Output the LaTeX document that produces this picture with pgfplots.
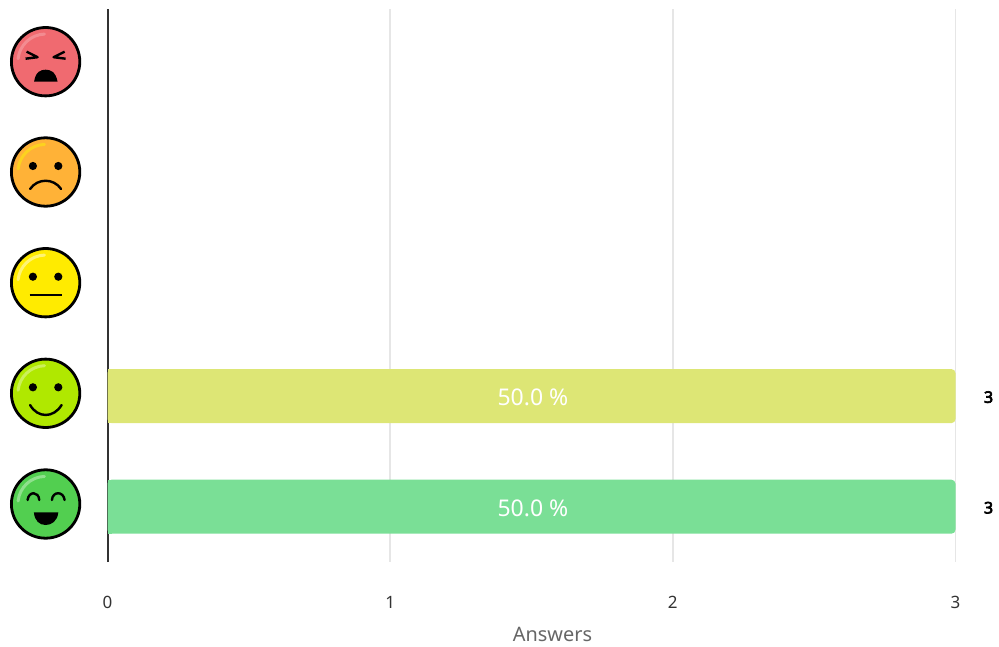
\documentclass[border=0pt]{standalone}
\usepackage{fontspec}
\setmainfont{Noto Sans}
\newfontface\boldthree{Noto Sans}[FakeBold=4]
\usepackage{pgfplots}
\pgfplotsset{compat=1.18}
\definecolor{barlime}{HTML}{DDE675}
\definecolor{bargreen}{HTML}{7ADF96}
\definecolor{gridc}{HTML}{E6E6E6}
\definecolor{axisc}{HTML}{333333}
\definecolor{tickc}{HTML}{333333}
\definecolor{labc}{HTML}{666666}
\definecolor{fred}{HTML}{F06A70}
\definecolor{forange}{HTML}{FFB237}
\definecolor{fyellow}{HTML}{FFEB00}
\definecolor{flime}{HTML}{B0E800}
\definecolor{fgreen}{HTML}{52CF50}
\newcommand{\face}[4]{% cy, fill, highlight, features
  \begin{scope}[shift={(45.6,#1)}]
    \fill[#2] (0,0) circle (34.2);
    \draw[#3,line width=3pt,line cap=round] (-27.5,-3) arc[start angle=186,end angle=268,radius=27.5];
    \draw[black,line width=2.8pt] (0,0) circle (34.2);
    #4
  \end{scope}}
\newcommand{\eyes}{\fill[black] (-12.7,-6) circle (4.1);\fill[black] (12.7,-6) circle (4.1);}
\begin{document}
\begin{tikzpicture}
\useasboundingbox (0,0) rectangle (999pt,646pt);
\begin{axis}[
  at={(107.5pt,84pt)},anchor=south west,
  scale only axis,width=848pt,height=553pt,
  xmin=0,xmax=3,ymin=-0.5,ymax=4.5,
  xbar,bar width=54pt,bar shift=0pt,
  clip=false,
  axis x line=bottom,
  axis y line=left,
  x axis line style={draw=none},
  y axis line style={draw=axisc,line width=2pt,-},
  xtick={0,1,2,3},ytick=\empty,
  xmajorgrids,
  grid style={gridc,line width=1.5pt},
  major tick length=0pt,
  tick label style={font=\fontsize{17}{17}\selectfont,text=tickc,/pgf/number format/assume math mode=true},
  xticklabel style={yshift=-31pt},
  xlabel={Answers},
  xlabel style={font=\fontsize{19.9}{19.9}\selectfont,text=labc,yshift=-11.5pt,xshift=21pt},
]
\addplot[forget plot,draw=none,fill=barlime,rounded corners=4pt] coordinates {(3,1)};
\addplot[forget plot,draw=none,fill=bargreen,rounded corners=4pt] coordinates {(3,0)};
\addplot[forget plot,draw=none,fill=barlime] coordinates {(0.016,1)};
\addplot[forget plot,draw=none,fill=bargreen] coordinates {(0.016,0)};
\node[white,font=\fontsize{23}{23}\selectfont,yshift=-1.5pt] at (axis cs:1.505,1) {50.0 \%};
\node[white,font=\fontsize{23}{23}\selectfont,yshift=-1.5pt] at (axis cs:1.505,0) {50.0 \%};
\node[black,font=\fontsize{16}{16}\selectfont\boldthree,yshift=-1pt] at (axis cs:3.117,1) {3};
\node[black,font=\fontsize{16}{16}\selectfont\boldthree,yshift=-1pt] at (axis cs:3.117,0) {3};
\end{axis}
\begin{scope}[shift={(0pt,646pt)},x=1pt,y=-1pt]
\face{61.7}{fred}{white!22!fred}{
  \draw[black,line width=2.4pt,line join=round] (-19,-10) -- (-8,-4.5) -- (-20,-3);
  \draw[black,line width=2.4pt,line join=round] (19,-10) -- (8,-4.5) -- (20,-3);
  \fill[black] (-11.5,20) .. controls (-10,10) and (-5,8) .. (0,8) .. controls (5,8) and (10,10) .. (12,20) -- cycle;
}
\face{172}{forange}{yellow!50!forange}{
  \eyes
  \draw[black,line width=2.4pt,line cap=round] (-15.5,17) .. controls (-8,6) and (8,6) .. (15.5,17);
}
\face{282.7}{fyellow}{white!45!fyellow}{
  \eyes
  \draw[black,line width=2.4pt] (-16,12.3) -- (16,12.3);
}
\face{393.3}{flime}{white!35!flime}{
  \eyes
  \draw[black,line width=2.4pt,line cap=round] (-15.5,11.7) .. controls (-8,25) and (8,25) .. (16,11.7);
}
\face{504}{fgreen}{white!35!fgreen}{
  \draw[black,line width=2.4pt,line cap=round] (-18,-4) .. controls (-17,-13) and (-7,-13) .. (-6.3,-4);
  \draw[black,line width=2.4pt,line cap=round] (6.3,-4) .. controls (7,-13) and (18,-13) .. (19,-4);
  \fill[black] (-11.7,8.3) -- (12.7,8.3) .. controls (12,17) and (6,21) .. (0,21) .. controls (-6,21) and (-11,17) .. (-11.7,8.3) -- cycle;
}
\end{scope}
\end{tikzpicture}
\end{document}
